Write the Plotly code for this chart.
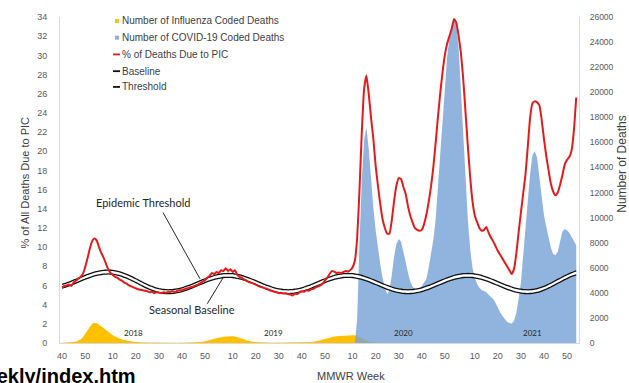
import plotly.graph_objects as go

# Week index 0 = MMWR week 40 of 2017; one step per week through week 1 of 2022.
tick_idx = [0, 10, 22, 32, 42, 52, 62, 74, 84, 94, 104, 114,
            126, 136, 146, 156, 166, 179, 189, 199, 209, 219]
tick_text = ["40", "50", "10", "20", "30", "40", "50", "10", "20", "30", "40", "50",
             "10", "20", "30", "40", "50", "10", "20", "30", "40", "50"]

# % of all deaths due to pneumonia, influenza or COVID-19 (PIC), weeks 0..223
pic_pct = [
    5.8, 5.95, 6.0, 6.1, 5.95, 6.3, 6.5, 6.7, 6.9, 7.2, 7.9, 8.8, 9.8, 10.6, 10.9, 10.7,
    10.0, 9.4, 8.9, 8.3, 7.7, 7.3, 7.1, 6.9, 6.8, 6.6, 6.5, 6.3, 6.2, 6.0, 5.9, 5.8,
    5.7, 5.6, 5.55, 5.5, 5.45, 5.4, 5.3, 5.35, 5.2, 5.3, 5.25, 5.2, 5.3, 5.25, 5.3,
    5.35, 5.4, 5.3, 5.45, 5.5, 5.5, 5.6, 5.7, 5.75, 5.85, 5.9, 6.0, 6.1, 6.25, 6.4, 6.55,
    6.8, 7.0, 7.3, 7.2, 7.4, 7.3, 7.6, 7.5, 7.8, 7.5, 7.7, 7.4, 7.6, 7.1, 6.9, 6.8,
    6.6, 6.5, 6.35, 6.3, 6.2, 6.1, 5.95, 5.85, 5.8, 5.7, 5.65, 5.5, 5.45, 5.35, 5.3, 5.2,
    5.25, 5.15, 5.2, 5.1, 5.05, 4.95, 5.15, 5.1, 5.3, 5.4, 5.35, 5.5, 5.45, 5.6, 5.65, 5.8,
    5.9, 6.0, 6.2, 6.5, 6.8, 7.2, 7.5, 7.45, 7.3, 7.35, 7.3, 7.4, 7.5, 7.45, 7.6, 7.9, 8.6,
    11.0, 16.0, 22.0, 26.5, 27.9, 26.0, 23.5, 21.3, 18.5, 16.4, 14.5, 12.9, 12.0, 11.4, 11.4, 12.8,
    14.8, 16.4, 17.2, 17.1, 16.3, 15.6, 14.3, 13.3, 12.6, 12.0, 11.8, 11.7, 11.8, 12.4, 13.4, 14.7,
    16.3, 18.3, 20.8, 23.5, 26.0, 28.2, 30.0, 31.2, 32.0, 32.8, 33.8, 33.4, 32.0, 30.2, 27.5, 24.0,
    20.5, 17.3, 14.8, 13.3, 12.6, 12.0, 11.7, 11.8, 12.1, 11.5, 11.0, 10.6, 10.1, 9.6, 9.2, 8.8,
    8.4, 8.0, 7.6, 7.2, 7.7, 9.3, 11.5, 13.6, 15.6, 17.6, 20.5, 23.5, 25.0, 25.2, 25.1, 24.8,
    23.3, 21.3, 19.5, 18.0, 16.6, 15.8, 15.4, 15.7, 16.5, 17.5, 18.6, 19.1, 19.4, 20.1, 22.2, 25.6,
]

# Seasonal baseline (%), weeks 0..223
baseline_pct = [
    5.71, 5.79, 5.87, 5.95, 6.05, 6.15, 6.25, 6.35, 6.45, 6.55, 6.65, 6.75, 6.83, 6.91, 6.99, 7.05,
    7.10, 7.14, 7.18, 7.19, 7.20,
    7.19, 7.17, 7.13, 7.08, 7.02, 6.94, 6.85, 6.76, 6.65, 6.54, 6.42, 6.30, 6.18, 6.05, 5.93, 5.81,
    5.70, 5.59, 5.50, 5.41, 5.33, 5.27, 5.22, 5.18, 5.16, 5.15,
    5.16, 5.17, 5.21, 5.25, 5.30, 5.36, 5.44, 5.52, 5.60, 5.70, 5.80, 5.90, 6.00, 6.10, 6.20, 6.30,
    6.40, 6.48, 6.56, 6.64, 6.70, 6.75, 6.79, 6.83, 6.84, 6.85,
    6.84, 6.83, 6.79, 6.75, 6.70, 6.64, 6.56, 6.48, 6.40, 6.30, 6.20, 6.10, 6.00, 5.90, 5.80, 5.70,
    5.60, 5.52, 5.44, 5.36, 5.30, 5.25, 5.21, 5.17, 5.16, 5.15,
    5.16, 5.17, 5.21, 5.25, 5.30, 5.36, 5.44, 5.52, 5.60, 5.70, 5.80, 5.90, 6.00, 6.10, 6.20, 6.30,
    6.40, 6.48, 6.56, 6.64, 6.70, 6.75, 6.79, 6.83, 6.84, 6.85,
    6.84, 6.83, 6.79, 6.75, 6.70, 6.64, 6.56, 6.48, 6.40, 6.30, 6.20, 6.10, 6.00, 5.90, 5.80, 5.70,
    5.60, 5.52, 5.44, 5.36, 5.30, 5.25, 5.21, 5.17, 5.16, 5.15,
    5.16, 5.17, 5.21, 5.25, 5.30, 5.36, 5.44, 5.52, 5.60, 5.70, 5.80, 5.90, 6.00, 6.10, 6.20, 6.30,
    6.40, 6.48, 6.56, 6.64, 6.70, 6.75, 6.79, 6.83, 6.84, 6.85,
    6.84, 6.83, 6.79, 6.75, 6.70, 6.64, 6.56, 6.48, 6.40, 6.30, 6.20, 6.10, 6.00, 5.90, 5.80, 5.70,
    5.60, 5.52, 5.44, 5.36, 5.30, 5.25, 5.21, 5.17, 5.16, 5.15,
    5.16, 5.18, 5.22, 5.27, 5.34, 5.42, 5.51, 5.61, 5.73, 5.84, 5.97, 6.10, 6.23, 6.35, 6.48, 6.61,
    6.72, 6.84, 6.94, 7.03, 7.11,
]

# Epidemic threshold (%), weeks 0..223
threshold_pct = [
    6.11, 6.19, 6.27, 6.35, 6.45, 6.55, 6.65, 6.75, 6.85, 6.95, 7.05, 7.15, 7.23, 7.31, 7.39, 7.45,
    7.50, 7.54, 7.58, 7.59, 7.60,
    7.59, 7.57, 7.53, 7.48, 7.42, 7.34, 7.25, 7.16, 7.05, 6.94, 6.82, 6.70, 6.58, 6.45, 6.33, 6.21,
    6.10, 5.99, 5.90, 5.81, 5.73, 5.67, 5.62, 5.58, 5.56, 5.55,
    5.56, 5.57, 5.61, 5.65, 5.70, 5.76, 5.84, 5.92, 6.00, 6.10, 6.20, 6.30, 6.40, 6.50, 6.60, 6.70,
    6.80, 6.88, 6.96, 7.04, 7.10, 7.15, 7.19, 7.23, 7.24, 7.25,
    7.24, 7.23, 7.19, 7.15, 7.10, 7.04, 6.96, 6.88, 6.80, 6.70, 6.60, 6.50, 6.40, 6.30, 6.20, 6.10,
    6.00, 5.92, 5.84, 5.76, 5.70, 5.65, 5.61, 5.57, 5.56, 5.55,
    5.56, 5.57, 5.61, 5.65, 5.70, 5.76, 5.84, 5.92, 6.00, 6.10, 6.20, 6.30, 6.40, 6.50, 6.60, 6.70,
    6.80, 6.88, 6.96, 7.04, 7.10, 7.15, 7.19, 7.23, 7.24, 7.25,
    7.24, 7.23, 7.19, 7.15, 7.10, 7.04, 6.96, 6.88, 6.80, 6.70, 6.60, 6.50, 6.40, 6.30, 6.20, 6.10,
    6.00, 5.92, 5.84, 5.76, 5.70, 5.65, 5.61, 5.57, 5.56, 5.55,
    5.56, 5.57, 5.61, 5.65, 5.70, 5.76, 5.84, 5.92, 6.00, 6.10, 6.20, 6.30, 6.40, 6.50, 6.60, 6.70,
    6.80, 6.88, 6.96, 7.04, 7.10, 7.15, 7.19, 7.23, 7.24, 7.25,
    7.24, 7.23, 7.19, 7.15, 7.10, 7.04, 6.96, 6.88, 6.80, 6.70, 6.60, 6.50, 6.40, 6.30, 6.20, 6.10,
    6.00, 5.92, 5.84, 5.76, 5.70, 5.65, 5.61, 5.57, 5.56, 5.55,
    5.56, 5.58, 5.62, 5.67, 5.74, 5.82, 5.91, 6.01, 6.13, 6.24, 6.37, 6.50, 6.63, 6.75, 6.88, 7.01,
    7.12, 7.24, 7.34, 7.43, 7.51,
]

# Number of influenza coded deaths, weeks 0..140
flu_deaths = [
    20, 25, 30, 40, 55, 75, 110, 170, 270, 450, 720, 1050, 1350, 1530, 1600, 1580,
    1480, 1330, 1180, 1030, 880, 740, 620, 510, 420, 340, 280, 230, 185, 150, 120, 95,
    75, 60, 50, 45, 40, 35, 30, 30, 25, 25, 20, 20, 20, 20, 20, 20,
    20, 20, 20, 25, 25, 30, 30, 35, 40, 45, 55, 65, 80, 100, 130, 170,
    220, 280, 340, 390, 430, 470, 500, 520, 540, 550, 540, 520, 480, 420, 350, 280,
    210, 160, 120, 90, 70, 55, 45, 40, 35, 30, 25, 25, 20, 20, 20, 20,
    20, 20, 20, 20, 20, 20, 25, 30, 40, 45, 50, 60, 75, 95, 120, 160,
    210, 270, 330, 390, 440, 480, 510, 540, 560, 570, 580, 590, 600, 610, 620, 610,
    560, 470, 370, 270, 180, 110, 60, 30, 15, 10, 8, 6, 5,
]

# Number of COVID-19 coded deaths, weeks 127..223
covid_first_week = 127
covid_deaths = [
    0, 2000, 8000, 13000, 16200, 17200, 15500, 13000, 10800, 9000, 7500, 6300, 5200, 4400, 3900, 4200,
    5400, 6900, 7900, 8300, 8100, 7400, 6500, 5600, 4900, 4500, 4300, 4250, 4350, 4550, 4800, 5100,
    6000, 7000, 8200, 9800, 12500, 15000, 17500, 20500, 22800, 24300, 25300, 25800, 25500, 23500, 20000, 16000,
    12500, 9800, 7500, 6000, 5200, 4700, 4400, 4200, 4150, 4050, 3850, 3650, 3500, 3200, 2800, 2450,
    2150, 1900, 1700, 1600, 1550, 1750, 2400, 3500, 4800, 7000, 9300, 11300, 13500, 15000, 15300, 14800,
    13300, 11500, 10200, 9300, 8300, 7600, 7100, 7000, 7300, 8200, 8900, 9100, 9000, 8800, 8500, 8100,
    7800,
]

year_labels = ["2018", "2019", "2020", "2021"]
year_label_idx = [31, 91.5, 148, 204]

legend_labels = ["Number of Influenza Coded Deaths", "Number of COVID-19 Coded Deaths",
                 "% of Deaths Due to PIC", "Baseline", "Threshold"]

YELLOW = "#FFC000"
BLUE = "rgba(120,163,214,0.82)"
RED = "#E31B1B"
BLACK = "#111111"
AXIS_GRAY = "#D9D9D9"
TICK_GRAY = "#595959"
TEXT_DARK = "#262626"

weeks = list(range(len(pic_pct)))
flu_weeks = list(range(len(flu_deaths)))
covid_weeks = list(range(covid_first_week, covid_first_week + len(covid_deaths)))

fig = go.Figure()

# Death counts (primary axis, drawn underneath, labelled on the right)
fig.add_trace(go.Scatter(x=flu_weeks, y=flu_deaths, mode="lines", fill="tozeroy",
                         fillcolor=YELLOW, line=dict(width=0, color=YELLOW),
                         name=legend_labels[0], yaxis="y"))
fig.add_trace(go.Scatter(x=covid_weeks, y=covid_deaths, mode="lines", fill="tozeroy",
                         fillcolor=BLUE, line=dict(width=0, color=BLUE),
                         name=legend_labels[1], yaxis="y"))

# Percentages (overlay axis, labelled on the left)
fig.add_trace(go.Scatter(x=weeks, y=baseline_pct, mode="lines",
                         line=dict(color=BLACK, width=1.3, shape="spline", smoothing=0.6),
                         name=legend_labels[3], yaxis="y2"))
fig.add_trace(go.Scatter(x=weeks, y=threshold_pct, mode="lines", fill="tonexty",
                         fillcolor="white",
                         line=dict(color=BLACK, width=1.3, shape="spline", smoothing=0.6),
                         name=legend_labels[4], yaxis="y2"))
fig.add_trace(go.Scatter(x=weeks, y=pic_pct, mode="lines",
                         line=dict(color=RED, width=2, shape="spline", smoothing=0.4),
                         name=legend_labels[2], yaxis="y2"))

# Plot area in pixels: x 60..579, y 12..343
PL, PR, PT, PB = 60, 579, 12, 343


def px_x(px):
    return (px - PL) / (PR - PL)


def px_y(py):
    return (PB - py) / (PB - PT)


shapes = []
annotations = []

# Legend block
rows = [16, 33, 50, 67, 83]
for i, (label, row) in enumerate(zip(legend_labels, rows)):
    annotations.append(dict(xref="paper", yref="paper", x=px_x(120), y=px_y(row),
                            xanchor="left", yanchor="middle", showarrow=False,
                            text=label, font=dict(size=10, color="#404040")))
for row, col in zip(rows[:2], [YELLOW, "rgb(143,176,216)"]):
    shapes.append(dict(type="rect", xref="paper", yref="paper",
                       x0=px_x(115), x1=px_x(119), y0=px_y(row + 2), y1=px_y(row - 2),
                       fillcolor=col, line=dict(width=0)))
for row, col in zip(rows[2:], [RED, BLACK, BLACK]):
    shapes.append(dict(type="line", xref="paper", yref="paper",
                       x0=px_x(113), x1=px_x(120), y0=px_y(row), y1=px_y(row),
                       line=dict(color=col, width=1.8)))

# Callouts for threshold and baseline
callout_font = dict(family="Lato, Open Sans, sans-serif", size=11, color=TEXT_DARK)
annotations.append(dict(x=35.1, y=14.7, xref="x", yref="y2", text="Epidemic Threshold",
                        xanchor="center", yanchor="middle", showarrow=False, font=callout_font))
shapes.append(dict(type="line", xref="x", yref="y2", x0=43.8, y0=13.6, x1=59.8, y1=6.7,
                   line=dict(color=TEXT_DARK, width=1)))
annotations.append(dict(x=56.4, y=3.5, xref="x", yref="y2", text="Seasonal Baseline",
                        xanchor="center", yanchor="middle", showarrow=False, font=callout_font))
shapes.append(dict(type="line", xref="x", yref="y2", x0=63.0, y0=4.1, x1=69.8, y1=6.8,
                   line=dict(color=TEXT_DARK, width=1)))

# Season year labels
for lab, xi in zip(year_labels, year_label_idx):
    annotations.append(dict(x=xi, y=1.05, xref="x", yref="y2", text=lab, showarrow=False,
                            xanchor="center", yanchor="middle",
                            font=dict(family="Lato, Open Sans, sans-serif", size=8,
                                      color=TEXT_DARK)))

# Axis titles
annotations.append(dict(xref="paper", yref="paper", x=px_x(25), y=px_y(180),
                        xanchor="center", yanchor="middle",
                        text="% of All Deaths Due to PIC", textangle=-90, showarrow=False,
                        font=dict(size=11, color="#404040")))
annotations.append(dict(xref="paper", yref="paper", x=px_x(622), y=px_y(162),
                        xanchor="center", yanchor="middle",
                        text="Number of Deaths", textangle=-90, showarrow=False,
                        font=dict(size=12, color="#404040")))
annotations.append(dict(xref="paper", yref="paper", x=px_x(351), y=px_y(377),
                        xanchor="center", yanchor="middle",
                        text="MMWR Week", showarrow=False,
                        font=dict(size=11, color="#404040")))

# Source link along the bottom edge
annotations.append(dict(xref="paper", yref="paper", x=px_x(138), y=px_y(363),
                        xanchor="right", yanchor="top", text="<b>weekly/index.htm</b>",
                        showarrow=False,
                        font=dict(family="Liberation Sans, Arial, sans-serif", size=20,
                                  color="#000000")))

fig.update_layout(
    width=629, height=383,
    margin=dict(l=PL, r=629 - PR, t=PT, b=383 - PB),
    paper_bgcolor="white", plot_bgcolor="white",
    showlegend=False,
    font=dict(family="Liberation Sans, Arial, sans-serif", color=TICK_GRAY),
    xaxis=dict(range=[-0.9, 224.2], tickmode="array", tickvals=tick_idx, ticktext=tick_text,
               showline=True, linecolor=AXIS_GRAY, linewidth=1, ticks="",
               showgrid=False, zeroline=False, tickfont=dict(size=9, color=TICK_GRAY),
               ticklabelstandoff=4),
    yaxis=dict(side="right", range=[0, 26000], tickmode="array",
               tickvals=list(range(0, 26001, 2000)), tickformat="d",
               showline=True, linecolor=AXIS_GRAY, linewidth=1, ticks="",
               showgrid=False, zeroline=False, tickfont=dict(size=8.5, color=TICK_GRAY),
               ticklabelstandoff=8),
    yaxis2=dict(overlaying="y", side="left", range=[0, 34], tickmode="array",
                tickvals=list(range(0, 35, 2)),
                showline=True, linecolor=AXIS_GRAY, linewidth=1, ticks="",
                showgrid=False, zeroline=False, tickfont=dict(size=9, color=TICK_GRAY),
                ticklabelstandoff=10),
    shapes=shapes,
    annotations=annotations,
)

fig.write_html("out.html")
